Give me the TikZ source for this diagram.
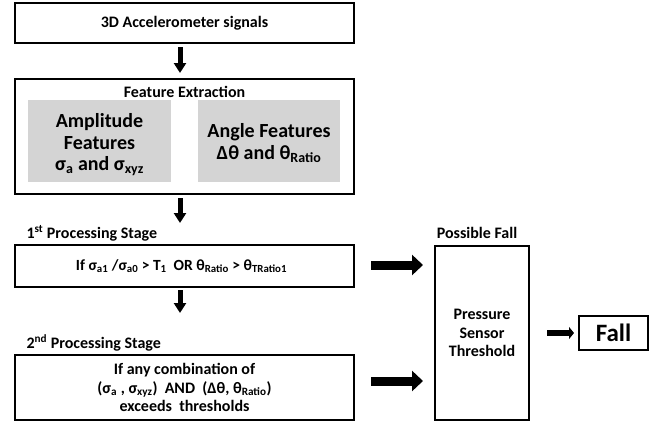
\documentclass[tikz,border=0pt]{standalone}
\usepackage{fontspec}
\setmainfont{Carlito}
\usetikzlibrary{arrows.meta}
\newcommand\sbx[1]{\textsubscript{#1}}
\tikzset{
  x=1pt,y=-1pt,
  box/.style={draw,line width=1.6pt,inner sep=0pt},
  gbox/.style={fill=black!17,draw=none,inner sep=0pt},
  txt/.style={font=\bfseries\fontsize{16}{18.5}\selectfont,align=center},
  big/.style={font=\bfseries\fontsize{20}{21.5}\selectfont,align=center},
  varrow/.style={line width=5pt,-{Triangle[width=12pt,length=10pt]}},
  harrow/.style={line width=9pt,-{Triangle[width=20pt,length=11pt]}},
  sarrow/.style={line width=6pt,-{Triangle[width=12pt,length=5pt]}},
}
\begin{document}
\begin{tikzpicture}
\useasboundingbox (0,0) rectangle (649,423);
% boxes
\node[box,minimum width=339pt,minimum height=40pt] (acc) at (184.5,23) {};
\node[txt] at (acc.center) {3D Accelerometer signals};
\node[box,minimum width=339pt,minimum height=115pt] (fe) at (184.5,136.5) {};
\node[txt] (fet) at (184.5,92) {Feature Extraction};
\node[gbox,minimum width=143pt,minimum height=82pt] (amp) at (99.5,141) {};
\node[big] at ([yshift=-4pt]amp.center) {Amplitude\\Features\\σ\sbx{a} and σ\sbx{xyz}};
\node[gbox,minimum width=142pt,minimum height=82pt] (ang) at (269,141) {};
\node[big] at ([yshift=-2pt]ang.center) {Angle Features\\Δθ and θ\sbx{Ratio}};
\node[txt,anchor=west] (s1) at (23,233) {1\textsuperscript{st} Processing Stage};
\node[box,minimum width=339pt,minimum height=42pt] (p1) at (184.5,266) {};
\node[txt,font=\bfseries\fontsize{15.5}{18}\selectfont] at ([xshift=-3pt]p1.center) {If σ\sbx{a1} /σ\sbx{a0} > T\sbx{1}\ \ OR θ\sbx{Ratio} > θ\sbx{TRatio1}};
\node[txt,anchor=west] (s2) at (23,343) {2\textsuperscript{nd} Processing Stage};
\node[box,minimum width=339pt,minimum height=65pt] (p2) at (184.5,387.5) {};
\node[txt] at (p2.center) {If any combination of\\(σ\sbx{a} , σ\sbx{xyz})\ \ AND\ \ (Δθ, θ\sbx{Ratio})\\exceeds\ \ thresholds};
\node[box,minimum width=94pt,minimum height=174pt] (ps) at (482,333) {};
\node[txt] at (ps.center) {Pressure\\Sensor\\Threshold};
\node[txt] (pf) at (477,233) {Possible Fall};
\node[box,minimum width=69pt,minimum height=34pt] (fall) at (613.5,333) {};
\node[font=\bfseries\fontsize{25}{27}\selectfont] at (fall.center) {Fall};
% arrows
\coordinate (a1s) at (180,47); \coordinate (a1e) at (180,73);
\coordinate (a2s) at (180,198); \coordinate (a2e) at (180,223);
\coordinate (a3s) at (180,290); \coordinate (a3e) at (180,313);
\draw[varrow] (a1s) -- (a1e);
\draw[varrow] (a2s) -- (a2e);
\draw[varrow] (a3s) -- (a3e);
\coordinate (h1s) at (371,265); \coordinate (h1e) at (423,265);
\coordinate (h2s) at (371,381); \coordinate (h2e) at (423,381);
\draw[harrow] (h1s) -- (h1e);
\draw[harrow] (h2s) -- (h2e);
\coordinate (h3s) at (547,333); \coordinate (h3e) at (574,333);
\draw[sarrow] (h3s) -- (h3e);
\end{tikzpicture}
\end{document}
